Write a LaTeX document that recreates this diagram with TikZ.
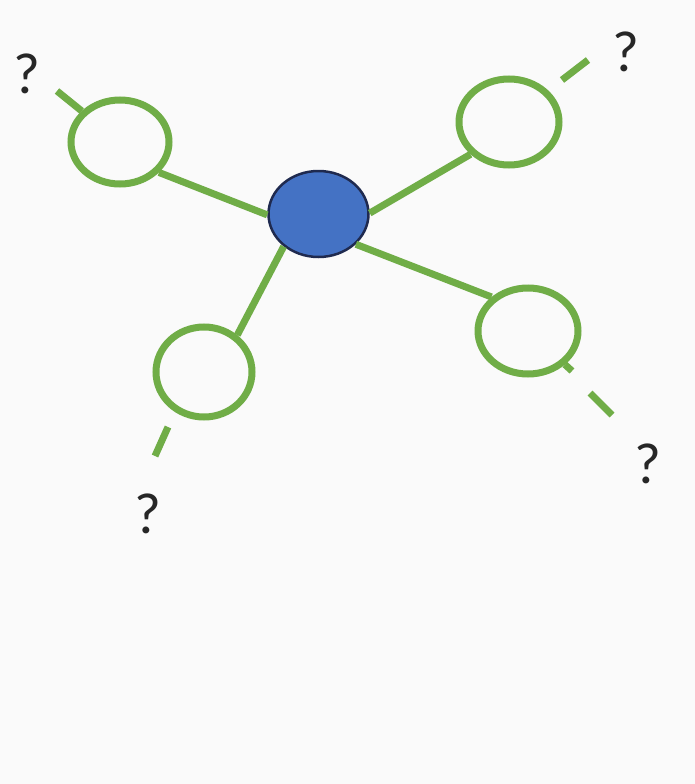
\documentclass[tikz,border=0pt]{standalone}
\usepackage{fontspec}
\setmainfont{Carlito}
\usetikzlibrary{shapes.geometric}
\definecolor{lgreen}{HTML}{70AD47}
\definecolor{cblue}{HTML}{4472C4}
\definecolor{navy}{HTML}{1F2A4F}
\begin{document}
\begin{tikzpicture}[x=1pt,y=-1pt,
  ring/.style={draw=lgreen,line width=7pt,ellipse,minimum width=98pt,minimum height=84pt,inner sep=0pt},
  hub/.style={draw=navy,fill=cblue,line width=2.5pt,ellipse,minimum width=100pt,minimum height=86pt,inner sep=0pt},
  link/.style={draw=lgreen,line width=7pt},
  qmark/.style={font=\fontsize{58}{58}\selectfont,text=black!85,inner sep=0pt}]
\useasboundingbox[fill=black!2] (0,0) rectangle (695,784);
\node[ring] (tl) at (120,142) {};
\node[ring,minimum width=100pt,minimum height=86pt] (tr) at (509,122) {};
\node[ring,minimum width=96pt,minimum height=90pt] (bl) at (204,372) {};
\node[ring,minimum width=100pt,minimum height=86pt] (br) at (528,331) {};
\node[hub] (c) at (318.5,214) {};
% links
\draw[link] (c.181) -- (tl.-38);
\draw[link] (c.1) -- (tr.220);
\draw[link] (c.223) -- (bl.48);
\draw[link] (c.-39) -- (br.137);
% dashed stubs
\coordinate (tla) at (57,91);
\draw[link] (tl) -- (tla);
\coordinate (tra) at (562,80);
\coordinate (trb) at (588,60);
\draw[link] (tra) -- (trb);
\coordinate (bla) at (168,427);
\coordinate (blb) at (155,456);
\draw[link] (bla) -- (blb);
\coordinate (bra) at (572,371);
\draw[link] (br) -- (bra);
\coordinate (brb) at (590,393);
\coordinate (brc) at (612,415);
\draw[link] (brb) -- (brc);
% question marks
\node[qmark] (q1) at (27,74) {?};
\node[qmark] (q2) at (626,52) {?};
\node[qmark] (q3) at (148,514) {?};
\node[qmark] (q4) at (648,464) {?};
\end{tikzpicture}
\end{document}
